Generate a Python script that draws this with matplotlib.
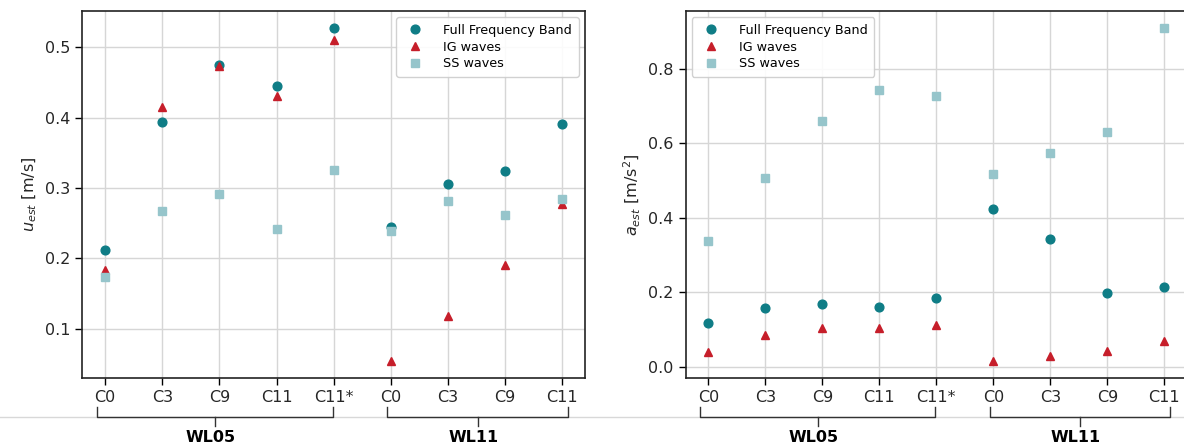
import numpy as np
import matplotlib.pyplot as plt
from matplotlib.lines import Line2D
import matplotlib.transforms as mtransforms

# stations, grouped by water level
stations = ['C0', 'C3', 'C9', 'C11', 'C11*', 'C0', 'C3', 'C9', 'C11']
groups = ['WL05', 'WL11']
group_span = [(-0.14, 3.98), (4.94, 8.10)]

# estimated velocity [m/s]
u_full = [0.212, 0.394, 0.475, 0.445, 0.528, 0.245, 0.306, 0.324, 0.391]
u_ig = [0.184, 0.415, 0.473, 0.431, 0.510, 0.054, 0.118, 0.191, 0.278]
u_ss = [0.173, 0.268, 0.291, 0.242, 0.325, 0.239, 0.281, 0.261, 0.285]

# estimated acceleration [m/s^2]
a_full = [0.119, 0.157, 0.170, 0.161, 0.186, 0.425, 0.342, 0.198, 0.214]
a_ig = [0.039, 0.086, 0.105, 0.105, 0.112, 0.016, 0.029, 0.042, 0.071]
a_ss = [0.339, 0.507, 0.661, 0.744, 0.728, 0.517, 0.575, 0.629, 0.910]

c_full = '#0f7d86'
c_ig = '#c61e2a'
c_ss = '#96c5cb'

fig = plt.figure(figsize=(11.84, 4.48), dpi=100)
ax1 = fig.add_axes([0.0695, 0.1569, 0.4246, 0.8185])
ax2 = fig.add_axes([0.5790, 0.1569, 0.4236, 0.8185])

x = np.arange(len(stations))


def draw(ax, full, ig, ss, ylabel, legend_loc):
    ax.plot(x, full, 'o', color=c_full, markersize=6.3, label='Full Frequency Band', zorder=3)
    ax.plot(x, ig, '^', color=c_ig, markersize=6.3, label='IG waves', zorder=3)
    ax.plot(x, ss, 's', color=c_ss, markersize=5.9, label='SS waves', zorder=3)
    ax.set_xlim(-0.4, len(stations) - 0.6)
    ax.set_xticks(x)
    ax.set_xticklabels(stations, fontsize=11.5, color='#262626')
    ax.tick_params(axis='y', labelsize=11.5, labelcolor='#262626')
    ax.tick_params(length=5, width=1)
    ax.grid(True, color='#d6d6d6', linewidth=1)
    ax.set_axisbelow(True)
    for s in ax.spines.values():
        s.set_linewidth(1.2)
        s.set_color('#222222')
    ax.set_ylabel(ylabel, fontsize=11.5, color='#262626')
    ax.legend(loc=legend_loc, fontsize=9.2, handletextpad=1.2, borderpad=0.5,
              labelspacing=0.3, framealpha=0.9, edgecolor='#cccccc')

    # brackets under each station group (x in data, y in axes fraction)
    trans = mtransforms.blended_transform_factory(ax.transData, ax.transAxes)
    y_tip, y_bar, y_stem = -0.080, -0.107, -0.132
    for (lo, hi), name in zip(group_span, groups):
        mid = (lo + hi) / 2
        ax.add_line(Line2D([lo, lo, hi, hi], [y_tip, y_bar, y_bar, y_tip], color='#333333',
                           lw=1.0, transform=trans, clip_on=False, solid_joinstyle='round'))
        ax.add_line(Line2D([mid, mid], [y_bar, y_stem], color='#333333', lw=1.0,
                           transform=trans, clip_on=False))
        ax.text(mid - 0.07, -0.143, name, transform=trans, ha='center', va='top',
                fontsize=11.5, fontweight='bold')
    ax.set_xlim(-0.4, len(stations) - 0.6)


draw(ax1, u_full, u_ig, u_ss, '$u_{est}$ [m/s]', 'upper right')
draw(ax2, a_full, a_ig, a_ss, '$a_{est}$ [m/s$^2$]', 'upper left')

# thin separator across the figure
y_sep = 1 - 417 / 448
fig.add_artist(Line2D([0.0, 1.0], [y_sep, y_sep], transform=fig.transFigure,
                      color='#d8d8d8', linewidth=1, zorder=0))

fig.savefig('out.png', dpi=100)
